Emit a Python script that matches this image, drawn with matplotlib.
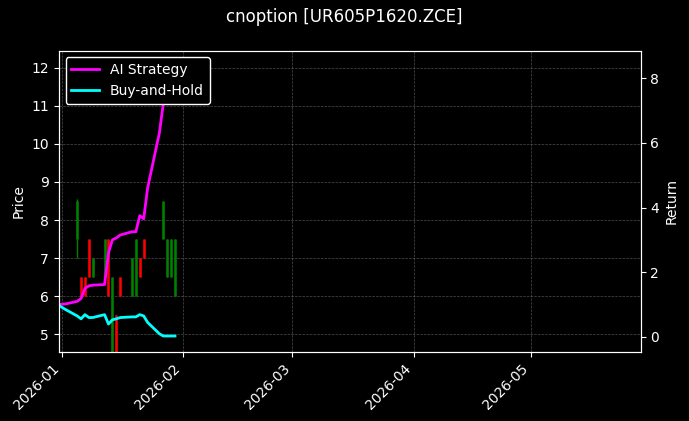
import matplotlib
matplotlib.use("Agg")
import matplotlib.pyplot as plt
import matplotlib.dates as mdates
import pandas as pd
import numpy as np

plt.style.use("dark_background")

candle_dates = ["2026-01-05","2026-01-06","2026-01-07","2026-01-08","2026-01-09",
                "2026-01-12","2026-01-13","2026-01-14","2026-01-15","2026-01-16",
                "2026-01-19","2026-01-20","2026-01-21","2026-01-22",
                "2026-01-27","2026-01-28","2026-01-29","2026-01-30"]
opens  = [7.5, 6.5, 6.5, 7.5, 6.5, 6.5, 7.5, 4.5, 5.5, 6.5, 6.0, 6.0, 7.0, 7.5, 7.5, 6.5, 6.5, 6.0]
closes = [8.5, 6.0, 6.0, 6.5, 7.0, 7.5, 6.0, 6.5, 4.5, 6.0, 7.0, 7.5, 6.5, 7.0, 8.5, 7.5, 7.5, 7.5]
highs  = [8.55,6.5, 6.5, 7.5, 7.0, 7.5, 7.5, 6.5, 5.5, 6.5, 7.0, 7.5, 7.0, 7.5, 8.5, 7.5, 7.5, 7.5]
lows   = [7.0, 6.0, 6.0, 6.5, 6.5, 6.5, 6.0, 4.5, 4.5, 6.0, 6.0, 6.0, 6.5, 7.0, 7.5, 6.5, 6.5, 6.0]

line_dates = ["2025-12-31","2026-01-02","2026-01-05","2026-01-06","2026-01-07","2026-01-08",
              "2026-01-09","2026-01-12","2026-01-13","2026-01-14","2026-01-15","2026-01-16",
              "2026-01-19","2026-01-20","2026-01-21","2026-01-22","2026-01-23","2026-01-26",
              "2026-01-27","2026-01-28","2026-01-29","2026-01-30"]
ai_ret = [1.0, 1.02, 1.1, 1.19, 1.5, 1.58, 1.6, 1.62, 2.6, 3.0, 3.06, 3.15,
          3.25, 3.25, 3.75, 3.65, 4.6, 6.3, 7.2, 7.9, 8.5, np.nan]
bh_ret = [1.0, 0.85, 0.65, 0.56, 0.69, 0.6, 0.6, 0.69, 0.4, 0.53, 0.56, 0.6,
          0.62, 0.62, 0.69, 0.65, 0.45, 0.1, 0.03, 0.03, 0.03, 0.03]

cd = pd.to_datetime(candle_dates)
ld = pd.to_datetime(line_dates)

fig, ax = plt.subplots(figsize=(6.89, 4.21), dpi=100)
fig.patch.set_facecolor("black")
ax.set_facecolor("black")

for d, o, c, h, l in zip(cd, opens, closes, highs, lows):
    col = "green" if c >= o else "red"
    ax.vlines(d, l, h, color=col, linewidth=1)
    ax.vlines(d, min(o, c), max(o, c), color=col, linewidth=1.8)

ax.set_ylim(4.55, 12.45)
ax.set_ylabel("Price")
ax.grid(True, color="gray", linestyle="--", linewidth=0.5, alpha=0.6)

ax2 = ax.twinx()
ax2.plot(ld, ai_ret, color="magenta", linewidth=2, label="AI Strategy")
ax2.plot(ld, bh_ret, color="cyan", linewidth=2, label="Buy-and-Hold")
ax2.set_ylim(-0.45, 8.85)
ax2.set_ylabel("Return")
ax2.legend(loc="upper left", facecolor="black", edgecolor="white", framealpha=1)

ax.set_xlim(pd.Timestamp("2025-12-31 06:00"), pd.Timestamp("2026-05-29"))
ax.xaxis.set_major_locator(mdates.MonthLocator())
ax.xaxis.set_major_formatter(mdates.DateFormatter("%Y-%m"))
plt.setp(ax.get_xticklabels(), rotation=45, ha="right")

fig.suptitle("cnoption [UR605P1620.ZCE]")
fig.subplots_adjust(left=0.085, right=0.93, top=0.88, bottom=0.165)
fig.savefig("out.png", dpi=100)
